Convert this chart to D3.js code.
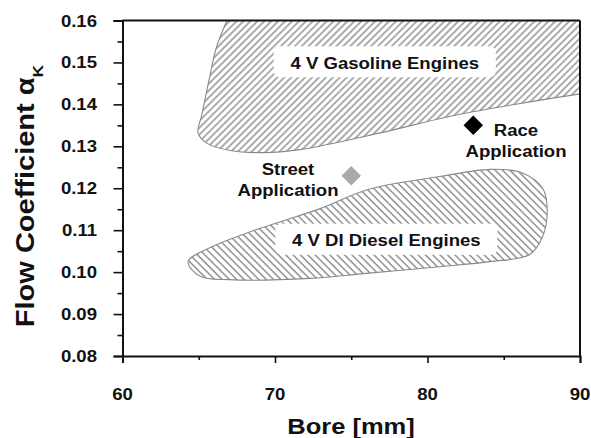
<!DOCTYPE html>
<html>
<head>
<meta charset="utf-8">
<script src="https://cdn.jsdelivr.net/npm/d3@7"></script>
<style>
  html, body { margin: 0; padding: 0; background: #fff; }
  svg { display: block; }
  text { font-family: "Liberation Sans", Arial, Helvetica, sans-serif; font-weight: bold; fill: #111; }
</style>
</head>
<body>
<svg id="chart" width="591" height="438"></svg>
<script>
// Axis ticks
const boreTicks = [60, 70, 80, 90];
const boreMinor = [65, 75, 85];
const flowTicks = [0.08, 0.09, 0.10, 0.11, 0.12, 0.13, 0.14, 0.15, 0.16];
const flowMinor = [0.085, 0.095, 0.105, 0.115, 0.125, 0.135, 0.145, 0.155];

// Lower-left outline of the gasoline engine band, [bore mm, flow coefficient]
const gasolineEdge = [
  [90.0, 0.1425], [85.6, 0.1399], [81.3, 0.1370], [76.9, 0.1332],
  [71.6, 0.1292], [69.2, 0.1285], [67.05, 0.1290], [65.55, 0.1307],
  [64.95, 0.1332], [65.2, 0.1375], [65.65, 0.1454], [66.15, 0.1535],
  [66.85, 0.1600]
];
// Closed outline of the DI diesel engine band
const dieselEdge = [
  [64.3, 0.1025], [65.9, 0.1061], [68.2, 0.1094], [70.5, 0.1122],
  [73.0, 0.1152], [76.2, 0.1198], [80.8, 0.1228], [84.1, 0.1245],
  [86.1, 0.1238], [87.55, 0.1200], [87.85, 0.1149], [87.55, 0.1085],
  [86.7, 0.1042], [84.1, 0.1025], [80.8, 0.1013], [76.0, 0.0997],
  [72.3, 0.0985], [67.0, 0.0982], [65.1, 0.0990]
];
const bandNames = ["4 V Gasoline Engines", "4 V DI Diesel Engines"];

// Application points
const appNames = [["Race", "Application"], ["Street", "Application"]];
const appBore = [83, 75];
const appFlow = [0.135, 0.123];

const svg = d3.select("#chart");
const x = d3.scaleLinear().domain([60, 90]).range([122.5, 580]);
const y = d3.scaleLinear().domain([0.08, 0.16]).range([356, 20.5]);
const SX = 1.16; // wide bold lettering

function label(g, px, py, str, anchor, size) {
  return g.append("text")
    .attr("transform", `translate(${px},${py}) scale(${SX},1)`)
    .attr("text-anchor", anchor)
    .style("font-size", size + "px")
    .text(str);
}

// Hatch patterns
const defs = svg.append("defs");
function hatch(id, angle, gap) {
  const p = defs.append("pattern")
    .attr("id", id).attr("patternUnits", "userSpaceOnUse")
    .attr("width", gap).attr("height", gap)
    .attr("patternTransform", `rotate(${angle})`);
  p.append("line").attr("x1", 1).attr("y1", 0).attr("x2", 1).attr("y2", gap)
    .attr("stroke", "#6e6e6e").attr("stroke-width", 1.15);
}
hatch("hatchUp", 45, 4.9);
hatch("hatchDown", -45, 5.2);
defs.append("clipPath").attr("id", "plotClip")
  .append("rect").attr("x", x(60)).attr("y", y(0.16))
  .attr("width", x(90) - x(60)).attr("height", y(0.08) - y(0.16));

const plot = svg.append("g").attr("clip-path", "url(#plotClip)");

// Gasoline band: curved lower/left edge, closed along the top-right corner
const edgeLine = d3.line().x(d => x(d[0])).y(d => y(d[1])).curve(d3.curveCatmullRom.alpha(0.5));
const gasPath = edgeLine(gasolineEdge) + `L${x(90)},${y(0.16)}Z`;
plot.append("path").attr("d", gasPath)
  .attr("fill", "url(#hatchUp)").attr("stroke", "#8a8a8a").attr("stroke-width", 1.1);

const closedLine = d3.line().x(d => x(d[0])).y(d => y(d[1])).curve(d3.curveCatmullRomClosed.alpha(0.5));
plot.append("path").attr("d", closedLine(dieselEdge))
  .attr("fill", "url(#hatchDown)").attr("stroke", "#8a8a8a").attr("stroke-width", 1.1);

// Band labels on cleared backgrounds
const bandLabelPos = [[77.2, 0.1499], [77.3, 0.1076]];
bandNames.forEach((nm, i) => {
  const cx = x(bandLabelPos[i][0]), cy = y(bandLabelPos[i][1]);
  const w = 222, h = 31;
  plot.append("rect").attr("x", cx - w / 2).attr("y", cy - h / 2 - 1)
    .attr("width", w).attr("height", h).attr("rx", 6).attr("fill", "#fff");
  label(plot, cx, cy + 6, nm, "middle", 16);
});

// Axes
const axisG = svg.append("g");
const yAxis = axisG.append("g").attr("transform", `translate(${x(60)},0)`)
  .call(d3.axisLeft(y).tickValues(flowTicks).tickSize(9).tickFormat(""));
const yMinor = axisG.append("g").attr("transform", `translate(${x(60)},0)`)
  .call(d3.axisLeft(y).tickValues(flowMinor).tickSize(5).tickFormat(""));
const xAxis = axisG.append("g").attr("transform", `translate(0,${y(0.08)})`)
  .call(d3.axisBottom(x).tickValues(boreTicks).tickSize(7).tickFormat(""));
const xMinor = axisG.append("g").attr("transform", `translate(0,${y(0.08)})`)
  .call(d3.axisBottom(x).tickValues(boreMinor).tickSize(4).tickFormat(""));
axisG.selectAll(".domain").attr("stroke", "#111").attr("stroke-width", 2);
axisG.selectAll(".tick line").attr("stroke", "#111").attr("stroke-width", 1.6);
yMinor.select(".domain").remove();
xMinor.select(".domain").remove();

// Frame top and right
axisG.append("line").attr("x1", x(60)).attr("x2", x(90)).attr("y1", y(0.16)).attr("y2", y(0.16))
  .attr("stroke", "#111").attr("stroke-width", 2);
axisG.append("line").attr("x1", x(90)).attr("x2", x(90)).attr("y1", y(0.16)).attr("y2", y(0.08))
  .attr("stroke", "#111").attr("stroke-width", 2);

// Tick labels
flowTicks.forEach(v => label(svg, 97, y(v) + 6, d3.format(".2f")(v), "end", 16));
boreTicks.forEach(v => label(svg, x(v), 400, String(v), "middle", 16));

// Axis titles
label(svg, 351, 434, "Bore [mm]", "middle", 22);
const yt = svg.append("text")
  .attr("transform", `translate(33.5,196) rotate(-90) scale(${SX},1)`)
  .attr("text-anchor", "middle").style("font-size", "25px");
yt.append("tspan").text("Flow Coefficient α");
yt.append("tspan").attr("dy", 9).style("font-size", "15px").text("K");

// Application markers
const appColor = ["#000", "#a9a9a9"];
const diamond = d3.symbol().type(d3.symbolSquare).size(190);
appBore.forEach((b, i) => {
  svg.append("path").attr("d", diamond())
    .attr("transform", `translate(${x(b)},${y(appFlow[i])}) rotate(45)`)
    .attr("fill", appColor[i]);
});
// Application captions
const capPos = [[516, 136], [288, 175]];
appNames.forEach((lines, i) => {
  lines.forEach((t, k) => label(svg, capPos[i][0], capPos[i][1] + k * 20.5, t, "middle", 16));
});
</script>
</body>
</html>
